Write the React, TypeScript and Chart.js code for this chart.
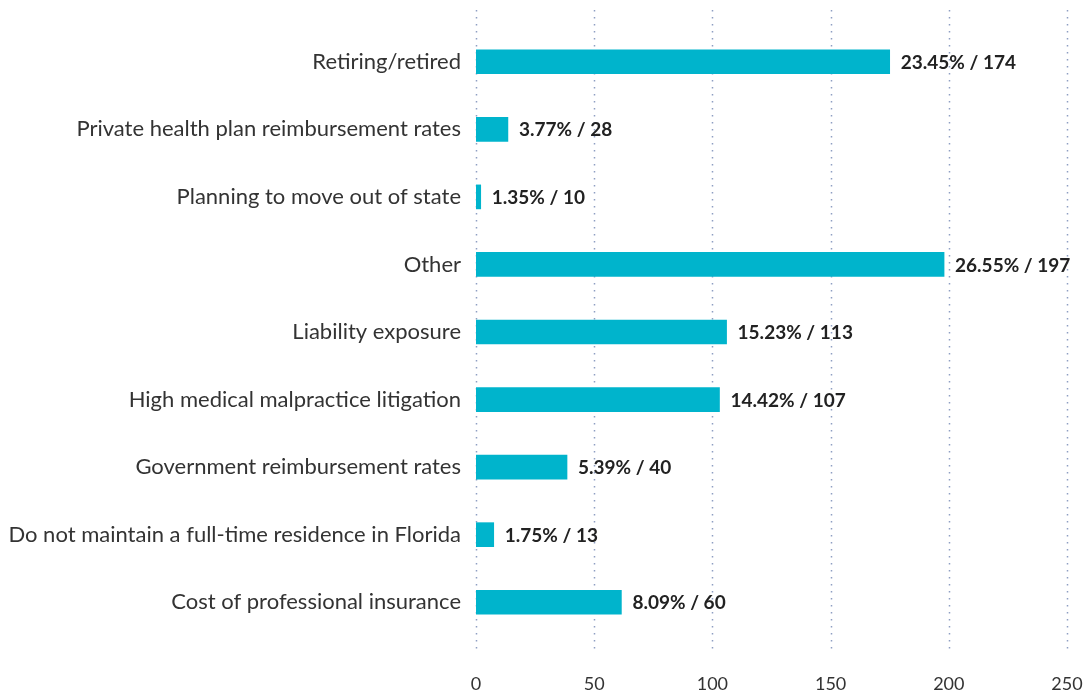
import React, { useEffect, useRef } from "react";
import { Chart, registerables } from "chart.js";

Chart.register(...registerables);

const categories = [
  "Retiring/retired",
  "Private health plan reimbursement rates",
  "Planning to move out of state",
  "Other",
  "Liability exposure",
  "High medical malpractice litigation",
  "Government reimbursement rates",
  "Do not maintain a full-time residence in Florida",
  "Cost of professional insurance",
];
// bar lengths as drawn in the picture (read against the axis)
const barLengths = [175, 13.5, 2, 198, 106, 103, 38.5, 7.5, 61.5];
// counts and percentages as printed in the labels
const counts = [174, 28, 10, 197, 113, 107, 40, 13, 60];
const percents = ["23.45%", "3.77%", "1.35%", "26.55%", "15.23%", "14.42%", "5.39%", "1.75%", "8.09%"];
const xTicks = [0, 50, 100, 150, 200, 250];

const FONT = "Lato, 'Noto Sans', sans-serif";

const dottedGrid = {
  id: "dottedGrid",
  beforeDatasetsDraw(chart: any) {
    const { ctx, chartArea, scales } = chart;
    const x = scales.x;
    ctx.save();
    ctx.strokeStyle = "#8e9ec2";
    ctx.lineWidth = 1.5;
    ctx.setLineDash([1.5, 5.5]);
    xTicks.forEach((v) => {
      const px = Math.round(x.getPixelForValue(v)) + 0.5;
      ctx.beginPath();
      ctx.moveTo(px, chartArea.top - 18);
      ctx.lineTo(px, chartArea.bottom + 14);
      ctx.stroke();
    });
    ctx.restore();
  },
};

const barLabels = {
  id: "barLabels",
  afterDatasetsDraw(chart: any) {
    const { ctx } = chart;
    const meta = chart.getDatasetMeta(0);
    ctx.save();
    ctx.font = `bold 19px ${FONT}`;
    ctx.fillStyle = "#222222";
    ctx.textAlign = "left";
    ctx.textBaseline = "middle";
    meta.data.forEach((bar: any, i: number) => {
      ctx.fillText(`${percents[i]} / ${counts[i]}`, bar.x + 11, bar.y + 1);
    });
    ctx.restore();
  },
};

export default function App() {
  const ref = useRef<HTMLCanvasElement>(null);
  useEffect(() => {
    document.body.style.margin = "0";
    const chart = new Chart(ref.current!, {
      type: "bar",
      data: {
        labels: categories,
        datasets: [
          {
            data: barLengths,
            backgroundColor: "#00b4cc",
            barThickness: 24,
            borderWidth: 0,
          },
        ],
      },
      options: {
        indexAxis: "y",
        animation: false,
        responsive: false,
        maintainAspectRatio: false,
        layout: { padding: { top: 28, right: 19, left: 0, bottom: 0 } },
        plugins: { legend: { display: false }, tooltip: { enabled: false } },
        scales: {
          x: {
            type: "linear",
            min: 0,
            max: 250,
            afterBuildTicks: (s: any) => {
              s.ticks = xTicks.map((v) => ({ value: v }));
            },
            afterFit: (s: any) => {
              s.height = 58;
              s.paddingLeft = 0;
              s.paddingRight = 0;
            },
            grid: { display: false, drawTicks: false },
            border: { display: false },
            ticks: {
              padding: 37,
              color: "#333333",
              font: { family: FONT, size: 18 },
            },
          },
          y: {
            type: "category",
            afterFit: (s: any) => {
              s.width = 476;
              s.paddingTop = 0;
              s.paddingBottom = 0;
            },
            grid: { display: false, drawTicks: false },
            border: { display: false },
            ticks: {
              padding: 15,
              color: "#333333",
              font: { family: FONT, size: 22 },
            },
          },
        },
      },
      plugins: [dottedGrid, barLabels],
    });
    return () => chart.destroy();
  }, []);
  return (
    <div style={{ width: 1086, height: 694 }}>
      <canvas ref={ref} width={1086} height={694} />
    </div>
  );
}
